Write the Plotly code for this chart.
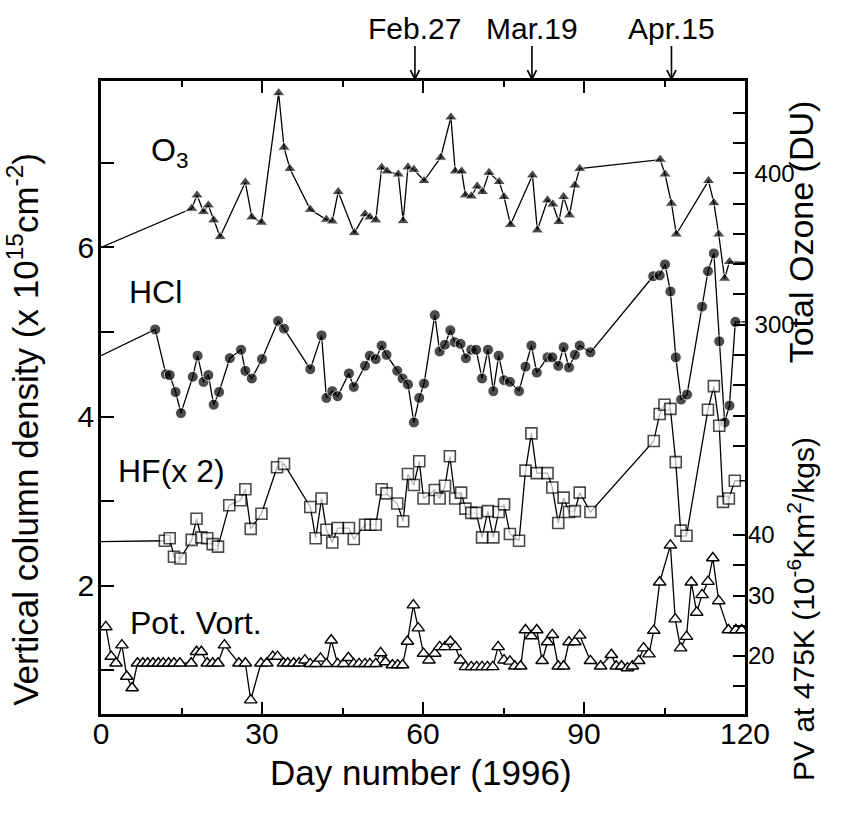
import plotly.graph_objects as go

# ---------------- data ----------------
o3_day = [0, 16.9, 17.9, 19.1, 20.0, 21.0, 22.2, 26.9, 28.1, 29.9, 33.1, 34.1, 35.2, 39.0,
          42.0, 43.1, 44.2, 47.2, 49.2, 50.1, 51.2, 52.3, 53.3, 55.4, 56.3, 57.2, 58.3,
          60.2, 63.3, 65.2, 66.0, 67.2, 67.9, 69.0, 70.1, 71.1, 72.3, 74.2, 75.1, 76.3,
          80.4, 81.3, 83.2, 84.2, 85.3, 86.2, 87.3, 88.3, 89.2, 104.2, 105.1, 106.3, 107.2,
          113.2, 114.2, 115.1, 116.2, 117.1, 120.5]
o3_du = [351, 376.7, 385.5, 374.5, 378.9, 369, 358, 394, 371, 367.5, 453, 417, 403, 376,
         369.4, 368.3, 387.7, 360.6, 373, 371, 369, 403.8, 401.3, 399.3, 368.5, 404, 402.4,
         395, 410.4, 437, 401.3, 401.3, 385.5, 384.8, 391.4, 387.7, 400.4, 394.3, 384.4, 366,
         398.7, 362.4, 382.2, 379.5, 367.9, 384.4, 372.3, 392, 403, 409, 399.3, 380, 359.7,
         395, 380.4, 359.7, 330.5, 341.5, 341]

hcl_day = [0, 10.1, 12.1, 12.8, 13.9, 14.9, 17.1, 18.0, 19.1, 20.0, 21.0, 22.0, 24.0, 26.1,
           26.9, 28.1, 30.0, 33.0, 34.1, 39.0, 41.1, 42.0, 43.1, 44.1, 46.2, 47.1, 49.2,
           50.1, 51.2, 52.3, 53.2, 55.2, 56.2, 57.2, 58.3, 59.3, 60.2, 62.2, 63.1, 64.1,
           65.1, 65.9, 67.0, 68.0, 69.0, 69.9, 71.0, 72.1, 73.1, 74.1, 75.1, 76.2, 77.9,
           79.1, 80.2, 81.2, 83.2, 84.1, 85.2, 86.2, 87.2, 88.3, 89.2, 91.2, 102.9, 104.1,
           105.1, 106.1, 107.1, 108.1, 109.2, 112.0, 113.1, 114.2, 115.2, 116.2, 117.1,
           118.2, 120.5]
hcl_val = [4.72, 5.03, 4.50, 4.49, 4.29, 4.04, 4.47, 4.72, 4.41, 4.49, 4.14, 4.29, 4.69, 4.79,
           4.54, 4.45, 4.68, 5.13, 5.04, 4.56, 4.96, 4.22, 4.30, 4.24, 4.51, 4.35, 4.60,
           4.72, 4.68, 4.84, 4.73, 4.54, 4.45, 4.38, 3.93, 4.22, 4.39, 5.20, 4.77, 4.85,
           5.02, 4.88, 4.86, 4.69, 4.79, 4.79, 4.45, 4.79, 4.30, 4.72, 4.43, 4.41, 4.30,
           4.59, 4.84, 4.52, 4.70, 4.70, 4.60, 4.82, 4.58, 4.73, 4.84, 4.76, 5.66, 5.67,
           5.80, 5.48, 4.70, 4.20, 4.26, 5.30, 5.72, 5.93, 4.89, 3.93, 4.13,
           5.12, 5.12]

hf_day = [0, 11.9, 12.8, 13.6, 14.8, 16.9, 17.8, 18.7, 19.8, 20.8, 21.8, 23.9, 26.0, 26.9,
          27.9, 29.9, 32.8, 34.1, 39.0, 40.0, 41.1, 42.0, 43.1, 44.1, 46.2, 47.1, 49.2, 50.2,
          51.2, 52.3, 53.2, 55.2, 56.3, 57.2, 58.3, 59.3, 60.1, 62.2, 63.1, 64.1, 65.0, 66.0,
          67.1, 67.9, 69.0, 69.9, 71.0, 72.1, 73.1, 74.1, 75.1, 76.2, 77.9, 79.1, 80.2, 81.2,
          83.2, 84.1, 85.2, 86.2, 87.2, 88.3, 89.2, 91.2, 103.0, 104.1, 105.0, 106.1, 107.1,
          108.0, 109.1, 113.1, 114.2, 115.2, 115.9, 117.0, 118.1, 120.5]
hf_val = [2.52, 2.53, 2.56, 2.34, 2.32, 2.54, 2.79, 2.57, 2.56, 2.49, 2.46, 2.95, 3.01, 3.14,
          2.67, 2.85, 3.40, 3.44, 2.93, 2.56, 3.03, 2.66, 2.51, 2.68, 2.68, 2.55, 2.72, 2.72,
          2.72, 3.14, 3.09, 2.97, 2.76, 3.32, 3.19, 3.47, 3.03, 3.13, 3.03, 3.18, 3.53, 3.03,
          3.10, 2.91, 2.86, 2.86, 2.57, 2.88, 2.57, 2.87, 2.96, 2.61, 2.53, 3.36, 3.80, 3.33,
          3.33, 3.16, 2.74, 3.04, 2.87, 2.88, 3.10, 2.87, 3.71, 4.03, 4.14, 4.09, 3.46,
          2.65, 2.59, 4.08, 4.36, 3.89, 2.99, 3.03, 3.24, 3.24]

pv_day = [0.9, 1.9, 2.8, 3.9, 4.8, 5.8, 6.8, 7.8, 8.7, 9.7, 10.7, 11.6, 12.6, 13.6, 14.7,
          16.8, 17.8, 18.7, 19.8, 20.8, 21.8, 23.0, 25.7, 26.9, 27.9, 29.8, 30.9, 32.0, 32.9,
          34.0, 34.8, 35.9, 36.9, 38.0, 39.0, 40.0, 40.9, 42.0, 42.9, 44.1, 45.2, 46.1, 47.1,
          48.1, 49.2, 50.1, 51.2, 52.1, 53.0, 54.3, 55.3, 56.2, 57.1, 58.2, 59.1, 60.1, 61.1,
          62.2, 63.1, 64.1, 65.1, 66.0, 67.0, 67.9, 69.0, 70.0, 71.0, 72.0, 73.0, 74.0, 75.1,
          76.2, 77.1, 78.2, 79.1, 80.2, 81.2, 82.2, 83.2, 84.1, 85.2, 86.2, 87.2, 88.3, 89.2,
          91.2, 93.1, 95.1, 96.0, 97.0, 98.1, 99.0, 100.2, 101.1, 102.1, 103.0, 104.1, 106.1,
          107.0, 108.0, 109.1, 110.0, 111.0, 112.0, 113.1, 114.0, 115.1, 116.9, 118.3, 119.4]
pv_val = [24.8, 19.9, 18.8, 21.8, 16.6, 14.7, 18.8, 18.8, 18.8, 18.8, 18.8, 18.8, 18.8, 18.8, 18.8,
          18.8, 20.7, 20.7, 18.8, 18.8, 18.8, 21.8, 18.8, 18.8, 12.7, 18.8, 18.8, 19.9, 19.9,
          18.8, 18.8, 18.8, 18.8, 19.3, 18.7, 18.7, 19.6, 18.7, 22.6, 18.7, 18.7, 19.7, 18.7,
          18.7, 18.7, 18.7, 18.7, 20.5, 19.0, 18.5, 18.5, 18.5, 22.4, 28.4, 24.6, 20.4, 19.3,
          20.4, 21.5, 21.5, 22.4, 21.5, 19.3, 18.2, 18.2, 18.2, 18.2, 18.2, 18.2, 21.5, 19.3,
          19.1, 18.3, 18.3, 24.3, 23.3, 24.3, 19.2, 22.3, 23.5, 18.3, 18.3, 22.3, 22.3, 23.4,
          19.2, 18.3, 20.2, 18.3, 18.3, 18.0, 18.3, 19.2, 21.3, 20.3, 24.2, 32.2, 38.3,
          26.1, 21.3, 23.2, 32.2, 27.2, 30.1, 32.3, 36.2, 29.1, 24.3, 24.3, 24.3]

event_day = [58.5, 80.3, 106.3]
event_label = ["Feb.27", "Mar.19", "Apr.15"]

x_ticks = [0, 30, 60, 90, 120]
left_tickvals = [1, 2, 3, 4, 5, 6, 7]
left_ticktext = ["", "2", "", "4", "", "6", ""]
oz_tickvals = [220, 240, 260, 280, 300, 320, 340, 360, 380, 400, 420, 440]
oz_ticktext = ["", "", "", "", "300", "", "", "", "", "400", "", ""]
pv_tickvals = [15, 20, 25, 30, 35, 40]
pv_ticktext = ["", "20", "", "30", "", "40"]

# ---------------- figure ----------------
FONT = "Liberation Sans, Arial, Helvetica, sans-serif"
BLACK = "black"
FS_TICK = 30
FS_TICK_R = 24
FS_LABEL = 32
FS_EVENT = 30
FS_TITLE = 35
FS_TITLE_OZ = 34
FS_TITLE_PV = 30


def sizes(n, s, hide_first=False, hide_last=False):
    arr = [s] * n
    if hide_first:
        arr[0] = 0
    if hide_last:
        arr[-1] = 0
    return arr


def f(size):
    return dict(family=FONT, size=size, color=BLACK)


fig = go.Figure()

fig.add_trace(go.Scatter(
    x=o3_day, y=o3_du, yaxis="y2", mode="lines+markers",
    line=dict(color=BLACK, width=1.3),
    marker=dict(symbol="triangle-up", size=sizes(len(o3_day), 11, True, True), color=BLACK),
    showlegend=False))

fig.add_trace(go.Scatter(
    x=hcl_day, y=hcl_val, mode="lines+markers",
    line=dict(color=BLACK, width=1.3),
    marker=dict(symbol="circle", size=sizes(len(hcl_day), 11, True, True), color=BLACK),
    showlegend=False))

fig.add_trace(go.Scatter(
    x=hf_day, y=hf_val, mode="lines+markers",
    line=dict(color=BLACK, width=1.3),
    marker=dict(symbol="square", size=sizes(len(hf_day), 11, True, True), color="white",
                line=dict(color=BLACK, width=1.6)),
    showlegend=False))

fig.add_trace(go.Scatter(
    x=pv_day, y=pv_val, yaxis="y3", mode="lines+markers",
    line=dict(color=BLACK, width=1.3),
    marker=dict(symbol="triangle-up", size=11, color="white",
                line=dict(color=BLACK, width=1.4)),
    showlegend=False))

annotations = []
# in-plot series labels
for txt, xd, yd in [("O<sub>3</sub>", 12.8, 7.12), ("HCl", 10.1, 5.47),
                    ("HF(x 2)", 13.2, 3.36), ("Pot. Vort.", 17.7, 1.56)]:
    annotations.append(dict(text=txt, x=xd, y=yd, xref="x", yref="y", showarrow=False,
                            xanchor="center", yanchor="middle", font=f(FS_LABEL)))

# event arrows on top
for d, lab in zip(event_day, event_label):
    annotations.append(dict(text=lab, x=d, y=1.0, xref="x", yref="paper",
                            showarrow=True, ax=0, ay=-53, arrowhead=5, arrowsize=1.1,
                            arrowwidth=1.6, arrowcolor=BLACK, font=f(FS_EVENT)))

# axis titles
annotations.append(dict(text="Vertical column density (x 10<sup>15</sup>cm<sup>-2</sup>)",
                        x=-0.121, y=0.449, xref="paper", yref="paper", textangle=-90,
                        xanchor="center", yanchor="middle",
                        showarrow=False, font=f(FS_TITLE)))
annotations.append(dict(text="Day number (1996)", x=0.497, y=-0.093, xref="paper",
                        yref="paper", showarrow=False, xanchor="center", yanchor="middle",
                        font=f(FS_TITLE)))
annotations.append(dict(text="Total Ozone (DU)", x=1.087, y=0.761, xref="paper",
                        yref="paper", textangle=-90, showarrow=False,
                        xanchor="center", yanchor="middle", font=f(FS_TITLE_OZ)))
annotations.append(dict(text="PV at 475K (10<sup>-6</sup>Km<sup>2</sup>/kgs)", x=1.087,
                        y=0.166, xref="paper", yref="paper", textangle=-90,
                        xanchor="center", yanchor="middle",
                        showarrow=False, font=f(FS_TITLE_PV)))

fig.update_layout(
    width=846, height=814,
    margin=dict(l=101, r=101, t=81, b=100),
    paper_bgcolor="white", plot_bgcolor="white",
    font=f(FS_TICK),
    annotations=annotations,
    xaxis=dict(range=[0, 120], tickvals=x_ticks, ticks="inside", ticklen=12,
               tickwidth=1.5, tickcolor=BLACK, showline=True, linewidth=2.5,
               linecolor=BLACK, mirror="ticks", showgrid=False, zeroline=False,
               minor=dict(dtick=15, tick0=0, ticks="inside", ticklen=6, tickwidth=1.5,
                          tickcolor=BLACK, showgrid=False),
               tickfont=f(FS_TICK), ticklabelstandoff=-9),
    yaxis=dict(range=[0.48, 7.97], tickvals=left_tickvals, ticktext=left_ticktext,
               ticks="inside", ticklen=13, tickwidth=1.5, tickcolor=BLACK,
               showline=True, linewidth=2.5, linecolor=BLACK, showgrid=False,
               zeroline=False, tickfont=f(FS_TICK), ticklabelstandoff=-2),
    yaxis2=dict(range=[42.9, 460.9], overlaying="y", side="right", anchor="x",
                tickvals=oz_tickvals, ticktext=oz_ticktext, ticks="inside", ticklen=12,
                tickwidth=1.5, tickcolor=BLACK, showline=True, linewidth=2.5,
                linecolor=BLACK, showgrid=False, zeroline=False,
                tickfont=f(FS_TICK_R), ticklabelstandoff=2),
    yaxis3=dict(range=[10.4, 115.1], overlaying="y", side="right", anchor="x",
                tickvals=pv_tickvals, ticktext=pv_ticktext, ticks="inside", ticklen=12,
                tickwidth=1.5, tickcolor=BLACK, showline=False, showgrid=False,
                zeroline=False, tickfont=f(FS_TICK_R), ticklabelstandoff=2),
)

fig.write_html("out.html")
